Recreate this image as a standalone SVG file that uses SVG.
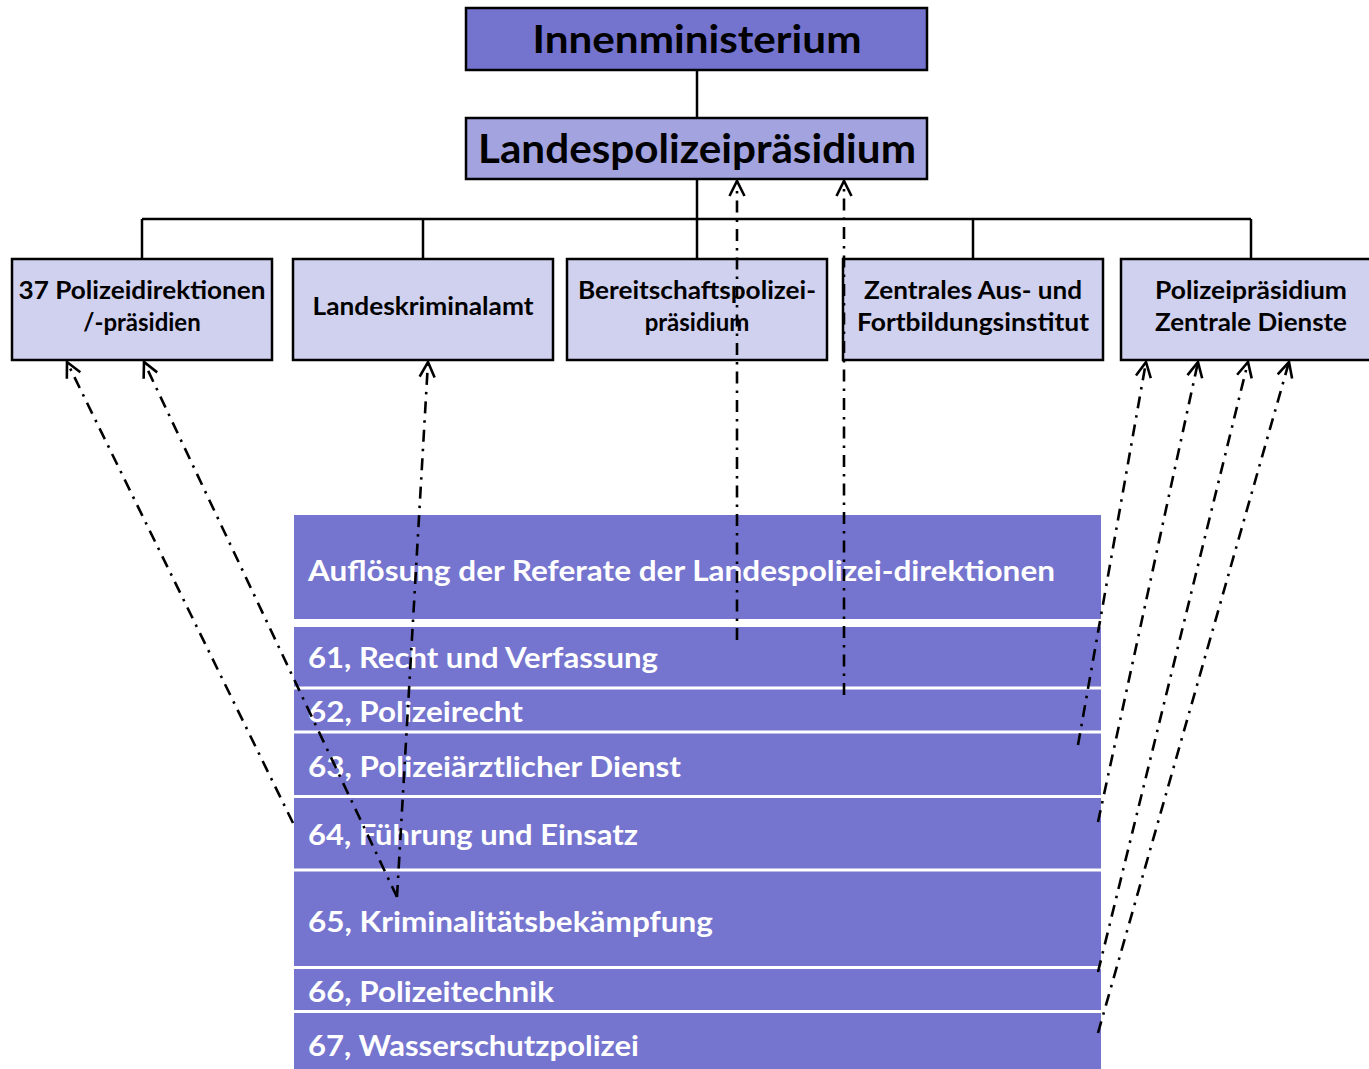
<svg xmlns="http://www.w3.org/2000/svg" width="1369" height="1069" viewBox="0 0 1369 1069">
<defs>
<marker id="arr" viewBox="0 0 18 18" refX="16.5" refY="9" markerWidth="18" markerHeight="18" markerUnits="userSpaceOnUse" orient="auto">
<path d="M1.5,1.5 L16.5,9 L1.5,16.5" fill="none" stroke="#000" stroke-width="2.6"/>
</marker>
<style>
.t{font-family:Lato,"Open Sans","Liberation Sans",sans-serif;font-weight:bold;}
.box{stroke:#000;stroke-width:2.5;}
.nd{fill:#D0D0EF;}
.bt{font-size:24px;fill:#000;text-anchor:middle;}
.row{fill:#7575CF;}
.rt{font-size:28px;fill:#fff;}
.tree{stroke:#000;stroke-width:2.5;fill:none;}
.dd{stroke:#000;stroke-width:2.6;fill:none;stroke-dasharray:12 7 2.5 7;marker-end:url(#arr);}
.sep{stroke:#fff;stroke-width:3;}
</style>
</defs>
<g id="connectors-tree">
<line class="tree" x1="697" y1="70" x2="697" y2="118"/>
<line class="tree" x1="697" y1="179" x2="697" y2="219" stroke-width="3"/>
<line class="tree" x1="142" y1="219" x2="1251" y2="219"/>
<line class="tree" x1="142" y1="219" x2="142" y2="259"/>
<line class="tree" x1="423" y1="219" x2="423" y2="259"/>
<line class="tree" x1="697" y1="219" x2="697" y2="259"/>
<line class="tree" x1="973" y1="219" x2="973" y2="259"/>
<line class="tree" x1="1251" y1="219" x2="1251" y2="259"/>
</g>
<g id="innenministerium">
<rect class="box" x="466" y="8" width="461" height="62" fill="#7474CF"/>
<text class="t" x="697" y="53" font-size="39" text-anchor="middle" textLength="329" lengthAdjust="spacingAndGlyphs">Innenministerium</text>
</g>
<g id="landespolizeipraesidium">
<rect class="box" x="466" y="118" width="461" height="61" fill="#A3A3E0"/>
<text class="t" x="697" y="163" font-size="41" text-anchor="middle" textLength="438" lengthAdjust="spacingAndGlyphs">Landespolizeipräsidium</text>
</g>
<g id="polizeidirektionen">
<rect class="box nd" x="12" y="259" width="260" height="101"/>
<text class="t bt" x="142" y="299" textLength="247" lengthAdjust="spacingAndGlyphs">37 Polizeidirektionen</text>
<text class="t bt" x="142" y="331">/-präsidien</text>
</g>
<g id="landeskriminalamt">
<rect class="box nd" x="293" y="259" width="260" height="101"/>
<text class="t bt" x="423" y="315" textLength="221" lengthAdjust="spacingAndGlyphs">Landeskriminalamt</text>
</g>
<g id="bereitschaftspolizei">
<rect class="box nd" x="567" y="259" width="260" height="101"/>
<text class="t bt" x="697" y="299" textLength="238" lengthAdjust="spacingAndGlyphs">Bereitschaftspolizei-</text>
<text class="t bt" x="697" y="331">präsidium</text>
</g>
<g id="fortbildungsinstitut">
<rect class="box nd" x="843" y="259" width="260" height="101"/>
<text class="t bt" x="973" y="299" textLength="218" lengthAdjust="spacingAndGlyphs">Zentrales Aus- und</text>
<text class="t bt" x="973" y="331" textLength="232" lengthAdjust="spacingAndGlyphs">Fortbildungsinstitut</text>
</g>
<g id="zentrale-dienste">
<rect class="box nd" x="1121" y="259" width="262" height="101"/>
<text class="t bt" x="1251" y="299" textLength="192" lengthAdjust="spacingAndGlyphs">Polizeipräsidium</text>
<text class="t bt" x="1251" y="331" textLength="192" lengthAdjust="spacingAndGlyphs">Zentrale Dienste</text>
</g>
<g id="referate">
<rect class="row" x="294" y="515" width="807" height="104"/>
<rect class="row" x="294" y="627" width="807" height="442"/>
<line class="sep" x1="294" y1="688" x2="1101" y2="688"/>
<line class="sep" x1="294" y1="732" x2="1101" y2="732"/>
<line class="sep" x1="294" y1="796.5" x2="1101" y2="796.5"/>
<line class="sep" x1="294" y1="870" x2="1101" y2="870"/>
<line class="sep" x1="294" y1="967.5" x2="1101" y2="967.5"/>
<line class="sep" x1="294" y1="1011.5" x2="1101" y2="1011.5"/>
<text class="t rt" x="308" y="581" textLength="747" lengthAdjust="spacingAndGlyphs">Auflösung der Referate der Landespolizei-direktionen</text>
<text class="t rt" x="308" y="668" textLength="350" lengthAdjust="spacingAndGlyphs">61, Recht und Verfassung</text>
<text class="t rt" x="308" y="722" textLength="215" lengthAdjust="spacingAndGlyphs">62, Polizeirecht</text>
<text class="t rt" x="308" y="777" textLength="373" lengthAdjust="spacingAndGlyphs">63, Polizeiärztlicher Dienst</text>
<text class="t rt" x="308" y="845" textLength="330" lengthAdjust="spacingAndGlyphs">64, Führung und Einsatz</text>
<text class="t rt" x="308" y="932" textLength="405" lengthAdjust="spacingAndGlyphs">65, Kriminalitätsbekämpfung</text>
<text class="t rt" x="308" y="1002" textLength="246" lengthAdjust="spacingAndGlyphs">66, Polizeitechnik</text>
<text class="t rt" x="308" y="1056" textLength="331" lengthAdjust="spacingAndGlyphs">67, Wasserschutzpolizei</text>
</g>
<g id="connectors-dashed">
<line class="dd" x1="293" y1="823" x2="67" y2="362"/>
<line class="dd" x1="397" y1="897" x2="144" y2="362"/>
<line class="dd" x1="397" y1="897" x2="428" y2="362"/>
<line class="dd" x1="737" y1="640" x2="737" y2="181"/>
<line class="dd" x1="844" y1="695" x2="844" y2="181"/>
<line class="dd" x1="1078" y1="745" x2="1146" y2="362"/>
<line class="dd" x1="1098" y1="822" x2="1198" y2="362"/>
<line class="dd" x1="1098" y1="972" x2="1248" y2="362"/>
<line class="dd" x1="1098" y1="1033" x2="1289" y2="362"/>
</g>
</svg>
